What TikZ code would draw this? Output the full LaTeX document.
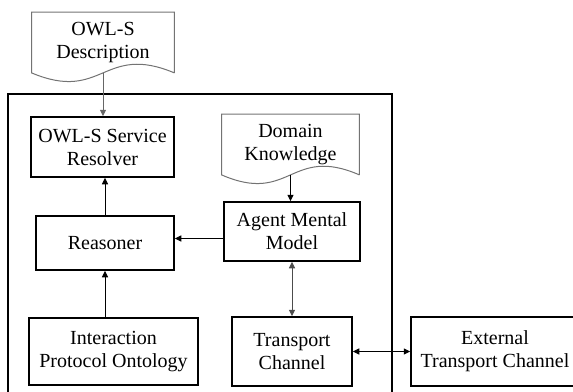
\documentclass[tikz,border=0pt]{standalone}
\usepackage{fontspec}
\newfontfamily\timesfont{Liberation Serif}
\usetikzlibrary{arrows.meta,calc}

\begin{document}
\begin{tikzpicture}[x=0.5pt, y=-0.5pt, >={Triangle[length=3.2pt,width=3pt]},
  every node/.style={font=\timesfont\fontsize{10}{11.5}\selectfont, align=center, inner sep=0pt},
  box/.style={draw, line width=0.85pt},
  doc/.style={minimum width=#1, minimum height=30pt},
  docline/.style={draw=black!55, line width=0.5pt},
  arr/.style={->, line width=0.5pt}]
  \clip (0,0) rectangle (573,391);
  % system frame
  \draw[line width=0.9pt] (8,400) -- (8,94) -- (392,94) -- (392,400);
  \node[doc=71pt] (desc) at (103,42.5) {OWL-S\\Description};
  \node[doc=68.5pt] (domain) at (290.5,144.5) {Domain\\Knowledge};
  \foreach \d in {desc,domain}
    \draw[docline] (\d.south east) -- (\d.north east) -- (\d.north west) -- (\d.south west)
      .. controls ($(\d.south)+(0,30)$) and ($(\d.south)+(0,-30)$) .. (\d.south east);
  \node[box,minimum width=71.5pt,minimum height=30pt] (resolver) at (102.5,147) {OWL-S Service\\Resolver};
  \node[box,minimum width=69pt,minimum height=27pt] (reasoner) at (105,243) {Reasoner};
  \node[box,minimum width=84.5pt,minimum height=33.5pt] (ontology) at (113.5,351.5) {Interaction\\Protocol Ontology};
  \node[box,minimum width=68pt,minimum height=29.5pt] (agent) at (292,231.5) {Agent Mental\\Model};
  \node[box,minimum width=60pt,minimum height=34.5pt] (transport) at (292,351.5) {Transport\\Channel};
  \node[box,minimum width=84pt,minimum height=34.5pt] (external) at (495,351.5) {External\\Transport Channel};
  \draw[arr,black!60] (desc.south) -- (desc.south |- resolver.north);
  \draw[arr] (reasoner.north) -- (reasoner.north |- resolver.south);
  \draw[arr] (reasoner.south |- ontology.north) -- (reasoner.south);
  \draw[arr] ([yshift=-3.5pt]agent.west) -- ([yshift=-3.5pt]agent.west -| reasoner.east);
  \draw[arr] (domain.south) -- (domain.south |- agent.north);
  \draw[arr,<->,black!70] (agent.south) -- (transport.north);
  \draw[arr,<->] (transport.east) -- (external.west);
\end{tikzpicture}
\end{document}
